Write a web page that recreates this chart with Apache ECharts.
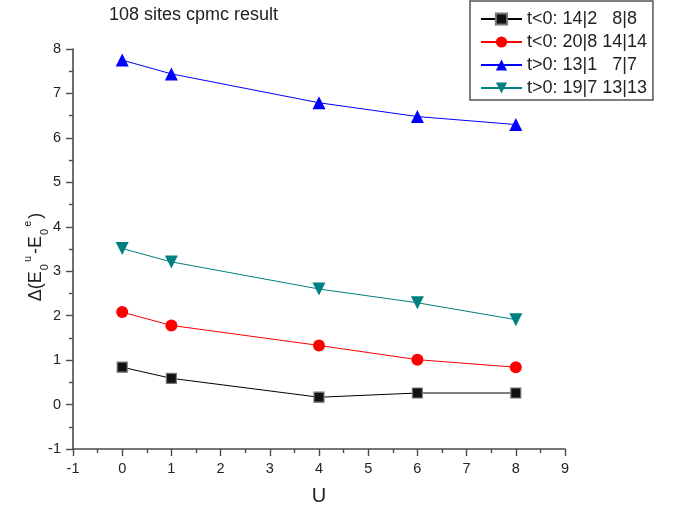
<!DOCTYPE html>
<html>
<head>
<meta charset="utf-8">
<script src="https://cdn.jsdelivr.net/npm/echarts@6/dist/echarts.min.js"></script>
<style>
  html, body { margin: 0; padding: 0; background: #fff; }
  #chart { width: 673px; height: 508px; }
</style>
</head>
<body>
<div id="chart"></div>
<script>
// Interaction strength U on the x axis
const uValues = [0, 1, 4, 6, 8];

// Energy differences per boundary-condition set
const seriesNames = [
  't<0: 14|2   8|8',
  't<0: 20|8 14|14',
  't>0: 13|1   7|7',
  't>0: 19|7 13|13'
];
const negA = [0.84, 0.59, 0.165, 0.26, 0.26];
const negB = [2.08, 1.78, 1.33, 1.01, 0.84];
const posA = [7.75, 7.44, 6.79, 6.48, 6.30];
const posB = [3.51, 3.21, 2.60, 2.29, 1.91];

const xTicks = { min: -1, max: 9, step: 1 };
const yTicks = { min: -1, max: 8, step: 1 };

const FONT = '"Liberation Sans", Arial, sans-serif';
const pair = (ys) => uValues.map((u, i) => [u, ys[i]]);

const axisCommon = {
  axisLine: { show: true, onZero: false, lineStyle: { color: '#4a4a4a', width: 1.6 } },
  axisTick: { show: true, inside: false, length: 7, lineStyle: { color: '#4a4a4a', width: 1.4 } },
  minorTick: { show: true, splitNumber: 2, length: 4, lineStyle: { color: '#4a4a4a', width: 1.4 } },
  splitLine: { show: false },
  minorSplitLine: { show: false },
  axisLabel: { color: '#222', fontFamily: FONT, fontSize: 14.5, margin: 12 }
};

function lineSeries(name, ys, color, symbol, size, extra) {
  return Object.assign({
    name: name,
    type: 'line',
    data: pair(ys),
    symbol: symbol,
    symbolSize: size,
    lineStyle: { color: color, width: 1 },
    itemStyle: { color: color },
    emphasis: { disabled: true },
    animation: false,
    z: 3
  }, extra || {});
}

const chart = echarts.init(document.getElementById('chart'), null, { renderer: 'canvas' });
chart.setOption({
  backgroundColor: '#fff',
  animation: false,
  title: {
    text: '108 sites cpmc result',
    left: 104,
    top: 1,
    textStyle: { color: '#222', fontFamily: FONT, fontSize: 18, fontWeight: 'normal' }
  },
  legend: {
    left: 470,
    top: 1,
    orient: 'vertical',
    itemWidth: 41,
    itemHeight: 14,
    itemGap: 5,
    padding: [9, 6, 3, 10],
    borderColor: '#555',
    borderWidth: 1.5,
    textStyle: { color: '#222', fontFamily: FONT, fontSize: 18 },
    data: seriesNames
  },
  grid: { left: 73, right: 108, top: 49, bottom: 59, containLabel: false, outerBoundsMode: 'none' },
  xAxis: Object.assign({
    type: 'value',
    min: xTicks.min,
    max: xTicks.max,
    interval: xTicks.step,
    name: 'U',
    nameLocation: 'middle',
    nameGap: 37,
    nameMoveOverlap: false,
    nameTextStyle: { color: '#222', fontFamily: FONT, fontSize: 20 }
  }, axisCommon),
  yAxis: Object.assign({
    type: 'value',
    min: yTicks.min,
    max: yTicks.max,
    interval: yTicks.step,
    name: '{m|Δ(E}{sub|0}{sup|u}{m|-E}{sub|0}{sup|e}{m|)}',
    nameLocation: 'middle',
    nameRotate: 90,
    nameGap: 23,
    nameMoveOverlap: false,
    nameTextStyle: {
      color: '#222',
      fontFamily: FONT,
      fontSize: 18,
      padding: [0, 16, 0, 0],
      rich: {
        m: { fontSize: 18, fontFamily: FONT, color: '#222', lineHeight: 28, verticalAlign: 'middle' },
        sub: { fontSize: 11, fontFamily: FONT, color: '#222', lineHeight: 28, verticalAlign: 'bottom', padding: [0, 0, 0, 1] },
        sup: { fontSize: 11, fontFamily: FONT, color: '#222', lineHeight: 28, verticalAlign: 'top', padding: [0, 2, 0, 2] }
      }
    }
  }, axisCommon),
  series: [
    lineSeries(seriesNames[0], negA, '#000000', 'rect', 10, {
      itemStyle: { color: '#111', borderColor: '#777', borderWidth: 1.2 }
    }),
    lineSeries(seriesNames[1], negB, '#ff0000', 'circle', 12),
    lineSeries(seriesNames[2], posA, '#0000ff', 'triangle', 13),
    lineSeries(seriesNames[3], posB, '#008080', 'triangle', 13, { symbolRotate: 180 })
  ]
});
</script>
</body>
</html>
